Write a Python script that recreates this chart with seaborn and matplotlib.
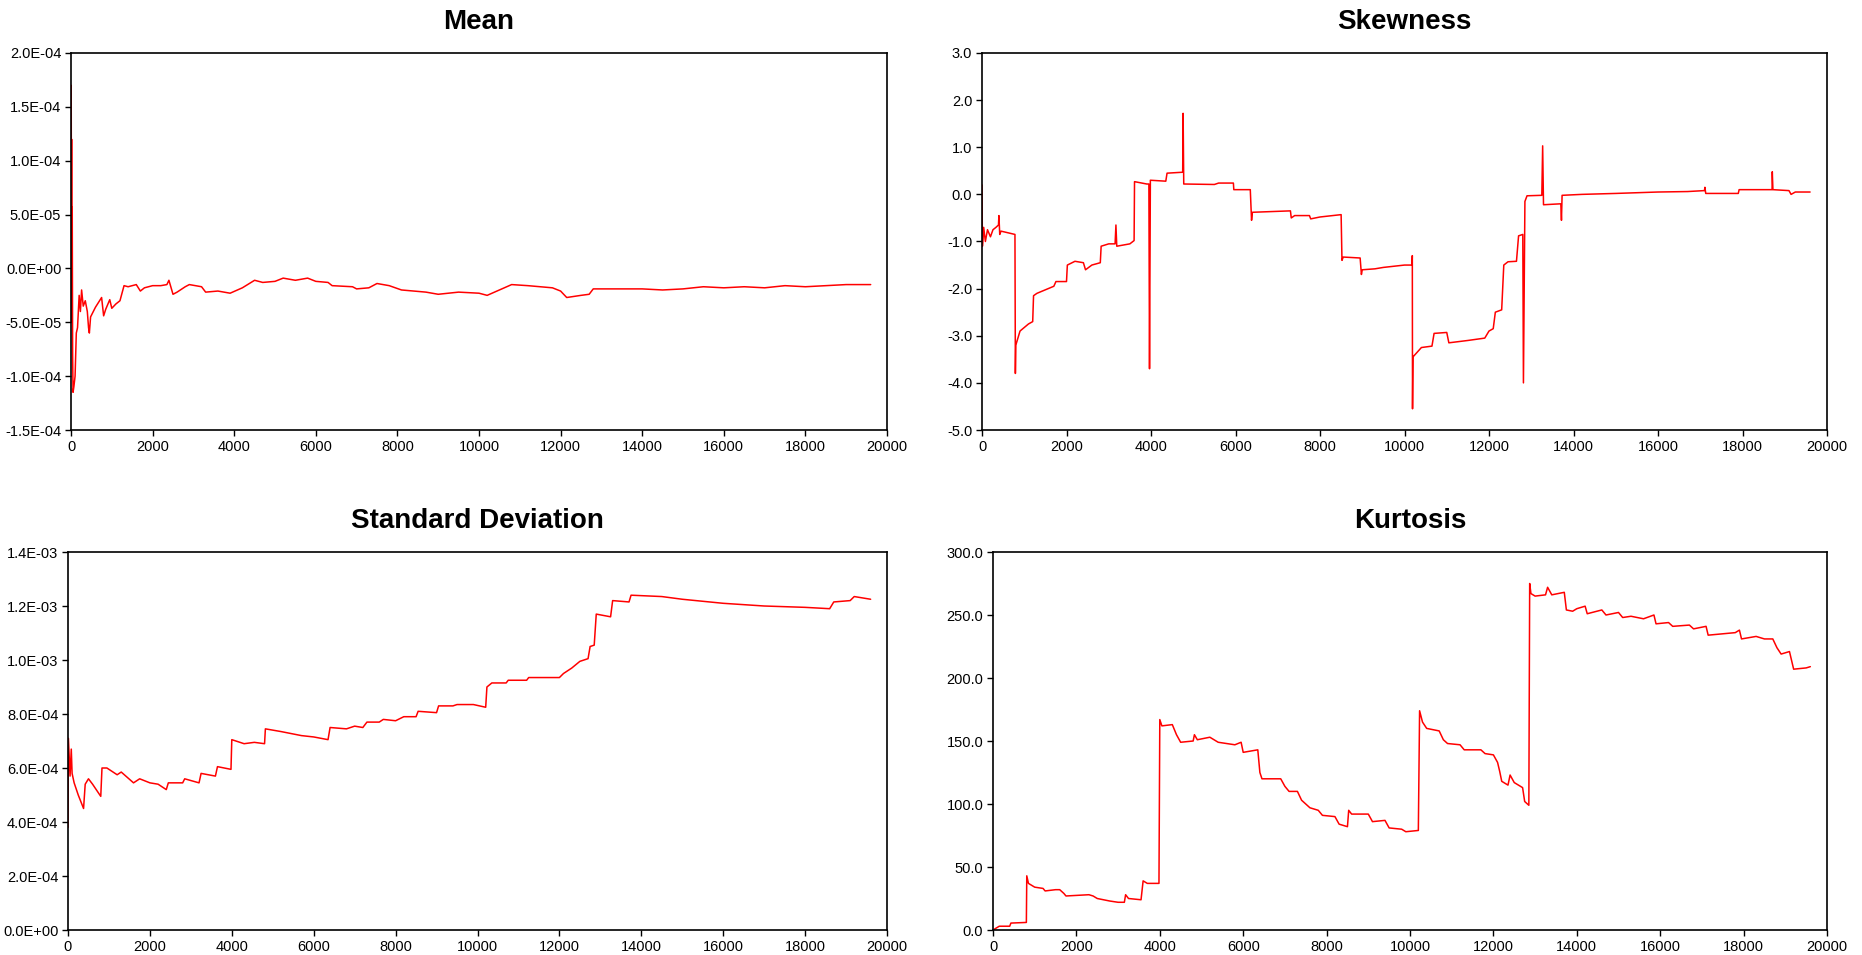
import matplotlib
matplotlib.use("Agg")
import matplotlib.pyplot as plt
import seaborn as sns
import pandas as pd

# ---------------- data ----------------
mean_points = [
    (0, 0.0), (5, 17.0), (10, 5.0), (15, 12.0), (20, -5.0), (30, 5.7), (40, -8.0),
    (50, -11.5), (70, -11.0), (100, -10.0), (130, -6.0), (160, -5.5), (200, -2.5),
    (230, -4.0), (260, -2.0), (300, -3.5), (350, -3.0), (400, -4.0), (430, -5.5),
    (450, -6.0), (480, -4.5), (520, -4.2), (600, -3.6), (700, -3.0), (750, -2.7),
    (800, -4.4), (850, -3.8), (950, -2.9), (1000, -3.7), (1100, -3.3), (1200, -3.0),
    (1300, -1.6), (1400, -1.7), (1600, -1.5), (1700, -2.1), (1800, -1.8), (2000, -1.6),
    (2200, -1.6), (2350, -1.5), (2400, -1.1), (2500, -2.4), (2600, -2.2), (2800, -1.7),
    (2900, -1.5), (3200, -1.7), (3300, -2.2), (3600, -2.1), (3900, -2.3), (4200, -1.8),
    (4500, -1.1), (4700, -1.3), (5000, -1.2), (5200, -0.9), (5500, -1.1), (5800, -0.9),
    (6000, -1.2), (6300, -1.3), (6400, -1.6), (6900, -1.7), (7000, -1.9), (7300, -1.8),
    (7500, -1.4), (7800, -1.6), (8100, -2.0), (8400, -2.1), (8700, -2.2), (9000, -2.4),
    (9500, -2.2), (10000, -2.3), (10200, -2.5), (10500, -2.0), (10800, -1.5), (11200, -1.6),
    (11500, -1.7), (11800, -1.8), (12000, -2.1), (12150, -2.7), (12500, -2.5), (12700, -2.4),
    (12800, -1.9), (13500, -1.9), (14000, -1.9), (14500, -2.0), (15000, -1.9), (15500, -1.7),
    (16000, -1.8), (16500, -1.7), (17000, -1.8), (17500, -1.6), (18000, -1.7), (18500, -1.6),
    (19000, -1.5), (19600, -1.5),
]  # y in units of 1e-5

skew_points = [
    (0, 0.2), (10, -1.1), (40, -0.7), (80, -1.0), (130, -0.75), (200, -0.9), (260, -0.75),
    (330, -0.7), (390, -0.65), (400, -0.45), (420, -0.85), (450, -0.78), (780, -0.85),
    (790, -3.8), (800, -3.2), (900, -2.9), (1100, -2.75), (1200, -2.7), (1220, -2.15),
    (1300, -2.1), (1700, -1.95), (1750, -1.85), (2000, -1.85), (2020, -1.5), (2200, -1.42),
    (2400, -1.45), (2450, -1.6), (2600, -1.5), (2800, -1.45), (2820, -1.1), (3000, -1.05),
    (3150, -1.05), (3170, -0.65), (3190, -1.1), (3500, -1.05), (3600, -0.98), (3610, 0.27),
    (3900, 0.22), (3950, 0.22), (3965, -3.7), (3985, 0.3), (4350, 0.28), (4380, 0.45),
    (4750, 0.47), (4760, 1.72), (4775, 0.22), (5500, 0.21), (5600, 0.24), (5950, 0.24),
    (5960, 0.1), (6350, 0.1), (6380, -0.55), (6400, -0.38), (7300, -0.35), (7320, -0.5),
    (7400, -0.45), (7750, -0.45), (7780, -0.52), (8000, -0.48), (8500, -0.43), (8520, -1.4),
    (8550, -1.33), (8950, -1.35), (8980, -1.7), (9000, -1.6), (9300, -1.58), (9500, -1.55),
    (10000, -1.5), (10180, -1.5), (10185, -1.3), (10190, -4.55), (10200, -3.45),
    (10400, -3.25), (10650, -3.22), (10700, -2.95), (11000, -2.93), (11050, -3.15),
    (11500, -3.1), (11900, -3.05), (12000, -2.9), (12100, -2.85), (12150, -2.5),
    (12300, -2.45), (12350, -1.5), (12450, -1.43), (12650, -1.42), (12700, -0.88),
    (12800, -0.85), (12815, -4.0), (12850, -0.15), (12900, -0.03), (13250, -0.02),
    (13270, 1.03), (13290, -0.22), (13700, -0.2), (13715, -0.55), (13730, -0.02),
    (14200, 0.0), (15000, 0.02), (16000, 0.05), (16700, 0.06), (17100, 0.08), (17110, 0.15),
    (17130, 0.02), (17900, 0.02), (17920, 0.1), (18700, 0.1), (18705, 0.48), (18720, 0.1),
    (19100, 0.08), (19150, 0.0), (19250, 0.05), (19600, 0.05),
]

sd_points = [
    (0, 3.8), (10, 7.1), (50, 5.7), (80, 6.7), (100, 5.8), (150, 5.45), (250, 5.0),
    (380, 4.5), (420, 5.4), (500, 5.6), (600, 5.4), (800, 4.95), (830, 6.0), (950, 6.0),
    (1100, 5.85), (1200, 5.75), (1300, 5.85), (1600, 5.45), (1750, 5.6), (2000, 5.45),
    (2200, 5.4), (2400, 5.2), (2450, 5.45), (2800, 5.45), (2850, 5.6), (3200, 5.45),
    (3250, 5.8), (3600, 5.7), (3650, 6.05), (3980, 5.95), (4000, 7.05), (4300, 6.9),
    (4550, 6.95), (4800, 6.9), (4820, 7.45), (5200, 7.35), (5700, 7.2), (6000, 7.15),
    (6350, 7.05), (6400, 7.5), (6800, 7.45), (7000, 7.55), (7200, 7.5), (7300, 7.7),
    (7600, 7.7), (7700, 7.8), (8000, 7.75), (8200, 7.9), (8500, 7.9), (8550, 8.1),
    (9000, 8.05), (9050, 8.3), (9400, 8.3), (9500, 8.35), (9900, 8.35), (10200, 8.25),
    (10230, 9.0), (10350, 9.15), (10700, 9.15), (10750, 9.25), (11200, 9.25),
    (11250, 9.35), (12000, 9.35), (12100, 9.5), (12300, 9.7), (12500, 9.95),
    (12700, 10.05), (12750, 10.5), (12850, 10.55), (12900, 11.7), (13250, 11.6),
    (13300, 12.2), (13700, 12.15), (13750, 12.4), (14500, 12.35), (15000, 12.25),
    (16000, 12.1), (17000, 12.0), (18000, 11.95), (18600, 11.9), (18700, 12.15),
    (19100, 12.2), (19200, 12.35), (19600, 12.25),
]  # y in units of 1e-4

kurt_points = [
    (0, 0), (100, 2), (150, 3), (400, 3), (430, 5.5), (800, 6), (810, 43), (850, 37),
    (1000, 34), (1200, 33), (1250, 31), (1500, 32), (1600, 32), (1700, 29), (1750, 27),
    (2300, 28), (2400, 27), (2500, 25), (2800, 23), (3000, 22), (3150, 22), (3180, 28),
    (3250, 25), (3550, 24), (3600, 39), (3700, 37), (3980, 37), (4000, 167), (4050, 162),
    (4300, 163), (4400, 155), (4500, 149), (4800, 150), (4830, 155), (4900, 151),
    (5200, 153), (5400, 149), (5800, 147), (5950, 149), (6000, 141), (6350, 143),
    (6400, 125), (6450, 120), (6900, 120), (7000, 114), (7100, 110), (7300, 110),
    (7400, 103), (7600, 97), (7800, 95), (7900, 91), (8200, 90), (8300, 84), (8500, 82),
    (8530, 95), (8600, 92), (9000, 92), (9100, 86), (9400, 87), (9500, 81), (9800, 80),
    (9900, 78), (10200, 79), (10230, 174), (10300, 165), (10400, 160), (10700, 158),
    (10800, 151), (10900, 148), (11200, 147), (11300, 143), (11700, 143), (11800, 140),
    (12000, 139), (12100, 133), (12150, 126), (12200, 118), (12350, 115), (12400, 123),
    (12500, 117), (12700, 113), (12750, 102), (12850, 99), (12870, 275), (12900, 267),
    (13000, 265), (13250, 266), (13300, 272), (13400, 266), (13700, 268), (13750, 254),
    (13900, 253), (14000, 255), (14200, 257), (14250, 251), (14600, 254), (14700, 250),
    (15000, 252), (15100, 248), (15300, 249), (15600, 247), (15850, 250), (15900, 243),
    (16200, 244), (16300, 241), (16700, 242), (16800, 239), (17100, 241), (17150, 234),
    (17800, 236), (17900, 238), (17950, 231), (18300, 233), (18500, 231), (18700, 231),
    (18800, 224), (18900, 219), (19100, 221), (19200, 207), (19500, 208), (19600, 209),
]

x_ticks = [0, 2000, 4000, 6000, 8000, 10000, 12000, 14000, 16000, 18000, 20000]
x_tick_labels = [str(v) for v in x_ticks]

mean_ticks = [-1.5e-4, -1.0e-4, -5.0e-5, 0.0, 5.0e-5, 1.0e-4, 1.5e-4, 2.0e-4]
mean_tick_labels = ["-1.5E-04", "-1.0E-04", "-5.0E-05", "0.0E+00", "5.0E-05", "1.0E-04", "1.5E-04", "2.0E-04"]
skew_ticks = [-5, -4, -3, -2, -1, 0, 1, 2, 3]
skew_tick_labels = ["-5.0", "-4.0", "-3.0", "-2.0", "-1.0", "0.0", "1.0", "2.0", "3.0"]
sd_ticks = [0.0, 2e-4, 4e-4, 6e-4, 8e-4, 1.0e-3, 1.2e-3, 1.4e-3]
sd_tick_labels = ["0.0E+00", "2.0E-04", "4.0E-04", "6.0E-04", "8.0E-04", "1.0E-03", "1.2E-03", "1.4E-03"]
kurt_ticks = [0, 50, 100, 150, 200, 250, 300]
kurt_tick_labels = ["0.0", "50.0", "100.0", "150.0", "200.0", "250.0", "300.0"]

titles = ["Mean", "Skewness", "Standard Deviation", "Kurtosis"]

# ---------------- style ----------------
sns.set_style("white")
plt.rcParams["font.family"] = ["Liberation Sans", "DejaVu Sans"]
plt.rcParams["text.color"] = "black"
plt.rcParams["xtick.color"] = "black"
plt.rcParams["ytick.color"] = "black"

fig = plt.figure(figsize=(18.62, 9.55), dpi=100)

W, H = 1862.0, 955.0
def rect(l, t, r, b):
    return [l / W, 1 - b / H, (r - l) / W, (b - t) / H]

panels = [
    (rect(71, 53, 887, 430), mean_points, 1e-5, (-1.5e-4, 2.0e-4), mean_ticks, mean_tick_labels, titles[0]),
    (rect(982, 53, 1827, 430), skew_points, 1.0, (-5, 3), skew_ticks, skew_tick_labels, titles[1]),
    (rect(68, 552, 887, 930), sd_points, 1e-4, (0, 1.4e-3), sd_ticks, sd_tick_labels, titles[2]),
    (rect(993, 552, 1827, 930), kurt_points, 1.0, (0, 300), kurt_ticks, kurt_tick_labels, titles[3]),
]

for pos, pts, scale, ylim, yt, ytl, title in panels:
    ax = fig.add_axes(pos)
    df = pd.DataFrame(pts, columns=["x", "y"])
    df["y"] = df["y"] * scale
    sns.lineplot(data=df, x="x", y="y", ax=ax, estimator=None, sort=False,
                 color="#ff0000", linewidth=1.1)
    ax.set_xlim(0, 20000)
    ax.set_ylim(*ylim)
    ax.set_xticks(x_ticks)
    ax.set_xticklabels(x_tick_labels)
    ax.set_yticks(yt)
    ax.set_yticklabels(ytl)
    ax.set_xlabel("")
    ax.set_ylabel("")
    ax.set_title(title, fontsize=20, fontweight="bold", pad=17, color="black",
                 family=["Liberation Sans Narrow", "Liberation Sans", "DejaVu Sans"])
    for s in ax.spines.values():
        s.set_visible(True)
        s.set_color("black")
        s.set_linewidth(1.2)
    ax.tick_params(axis="both", which="major", direction="out", length=4, width=1.0,
                   color="black", labelcolor="black", labelsize=10.5, pad=3,
                   left=True, bottom=True)

fig.savefig("out.png", dpi=100, facecolor="white")
